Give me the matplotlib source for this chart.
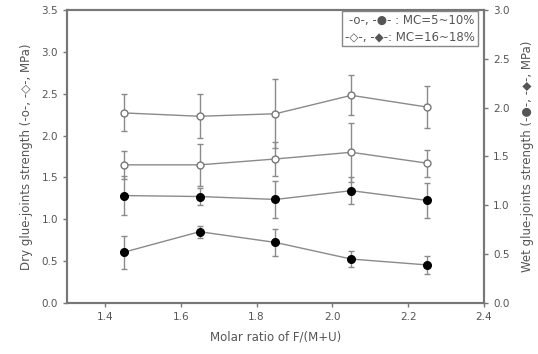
import matplotlib
matplotlib.use("Agg")
import matplotlib.pyplot as plt

# molar ratio F/(M+U)
ratio = [1.45, 1.65, 1.85, 2.05, 2.25]

# dry strength (left axis), MPa
dry_mc5 = [2.27, 2.23, 2.26, 2.48, 2.34]
dry_mc5_err = [0.22, 0.26, 0.41, 0.24, 0.25]
dry_mc16 = [1.65, 1.65, 1.72, 1.80, 1.67]
dry_mc16_err = [0.17, 0.25, 0.20, 0.35, 0.16]

# wet strength (right axis), MPa
wet_mc5 = [1.10, 1.09, 1.06, 1.15, 1.05]
wet_mc5_err = [0.20, 0.09, 0.19, 0.14, 0.18]
wet_mc16 = [0.52, 0.73, 0.62, 0.45, 0.39]
wet_mc16_err = [0.17, 0.06, 0.14, 0.08, 0.09]

line_c = "#8a8a8a"
txt_c = "#555555"

fig = plt.figure(figsize=(5.38, 3.54), dpi=100)
ax = fig.add_axes([0.1245, 0.144, 0.775, 0.828])
ax2 = ax.twinx()

kw = dict(color=line_c, lw=1.0, elinewidth=1.0, capsize=2.5, capthick=1.0, ecolor=line_c)
ax.errorbar(ratio, dry_mc5, yerr=dry_mc5_err, marker='o', ms=5,
            mfc='white', mec='#777777', **kw)
ax.errorbar(ratio, dry_mc16, yerr=dry_mc16_err, marker='o', ms=5,
            mfc='white', mec='#777777', **kw)
ax2.errorbar(ratio, wet_mc5, yerr=wet_mc5_err, marker='o', ms=5.5,
             mfc='black', mec='black', **kw)
ax2.errorbar(ratio, wet_mc16, yerr=wet_mc16_err, marker='o', ms=5.5,
             mfc='black', mec='black', **kw)

ax.set_xlim(1.3, 2.4)
ax.set_ylim(0, 3.5)
ax2.set_ylim(0, 3.0)
ax.set_xticks([1.4, 1.6, 1.8, 2.0, 2.2, 2.4])
ax.set_xticklabels(["1.4", "1.6", "1.8", "2.0", "2.2", "2.4"])
ax.set_yticks([0, 0.5, 1.0, 1.5, 2.0, 2.5, 3.0, 3.5])
ax2.set_yticks([0, 0.5, 1.0, 1.5, 2.0, 2.5, 3.0])
ax.yaxis.set_major_formatter(matplotlib.ticker.FormatStrFormatter('%.1f'))
ax2.yaxis.set_major_formatter(matplotlib.ticker.FormatStrFormatter('%.1f'))

for a in (ax, ax2):
    for s in a.spines.values():
        s.set_color("#777777")
        s.set_linewidth(1.5)
    a.tick_params(colors="#777777", labelcolor=txt_c, labelsize=7.5, length=3, width=1)

ax.set_xlabel("Molar ratio of F/(M+U)", fontsize=8.5, color=txt_c, labelpad=6)
ax.set_ylabel("Dry glue-joints strength (-ο-, -◇-, MPa)", fontsize=8.5, color=txt_c, labelpad=6)
ax2.set_ylabel("Wet glue-joints strength (-●-, -◆-, MPa)", fontsize=8.5, color=txt_c, labelpad=8)

ax.text(0.978, 0.985, "-ο-, -●- : MC=5~10%\n-◇-, -◆-: MC=16~18%",
        transform=ax.transAxes, ha='right', va='top', fontsize=8.5, color=txt_c,
        linespacing=1.3,
        bbox=dict(boxstyle='square,pad=0.25', fc='white', ec='#888888', lw=1))

fig.savefig("out.png", dpi=100)
